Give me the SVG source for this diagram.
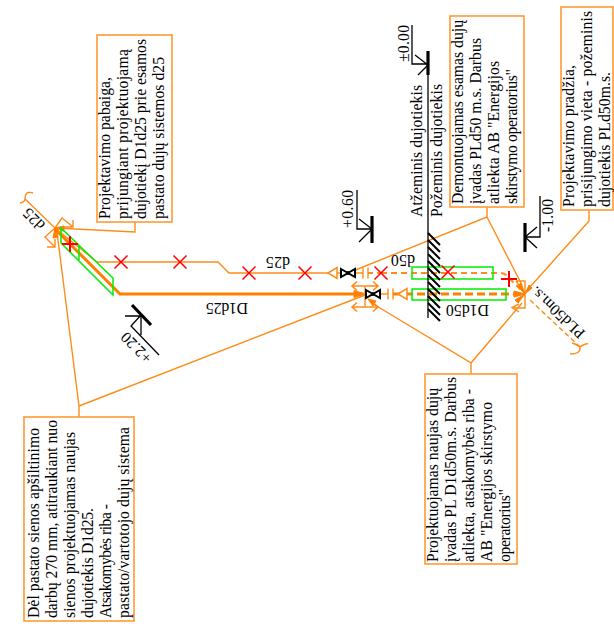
<svg xmlns="http://www.w3.org/2000/svg" width="614" height="624" viewBox="0 0 614 624">
<style>
text{font-family:"Liberation Serif","Times New Roman",serif;fill:#000;font-size:15.7px}
.box{fill:#fff;stroke:#ff9a33;stroke-width:1.6}
.o{fill:none;stroke:#ff8c1a;stroke-width:1.4}
.of{fill:#ff8000;stroke:#ff8000;stroke-width:1}
.ot{fill:none;stroke:#ff8000;stroke-width:3}
.g{fill:none;stroke:#00ee00;stroke-width:1.5}
.r{fill:none;stroke:#ff0000;stroke-width:1.5}
.k{fill:none;stroke:#000;stroke-width:1.3}
.kb{fill:none;stroke:#000;stroke-width:3.2}
.h{fill:none;stroke:#000;stroke-width:2}
</style>
<defs>
<path id="x" class="r" d="M-6.500 -6.500L6.500 6.500M-6.500 6.500L6.500 -6.500"/>
<path id="p" class="r" d="M-8 0H8M0 -8V8" style="stroke-width:2"/>
<path id="tri" class="o" d="M0 0L9 -5.500V5.500Z" style="fill:#fff;stroke-width:1.500"/>
<path id="fl" class="o" d="M0 -5.500V5.500M5 -5.500V5.500"/>
<g id="v"><path fill="#fff" stroke="#000" stroke-width="2" d="M-7 -4L7 4V-4L-7 4Z"/><circle r="2" fill="#000"/></g>
<path id="dbl" class="o" d="M-13 0H13M-8 -4.500L-13 0-8 4.500M8 -4.500L13 0 8 4.500" style="stroke-width:1.600"/>
</defs>
<g id="connectors">
<path class="o" d="M25 199L55 228L97 262H218L229 273H328"/>
<path class="ot" d="M55 229L120 294H365"/>
<path class="o" d="M337 273H341M355 273H363"/>
<path class="o" d="M368 273H381" stroke-dasharray="5 4" style="stroke-width:2"/>
<path class="o" d="M381 273H500Q505 273 508 277L525 294" stroke-dasharray="6 4" style="stroke-width:2"/>
<path class="ot" d="M393 294H525" stroke-dasharray="8 4"/>
<path class="o" d="M530 300L580 347" stroke-dasharray="5 3"/>
<path class="o" d="M380 294H388"/>
<path class="o" d="M20 203Q25 202 25 199Q25 194 28 192.500Q31 192 33 193"/>
<path class="o" d="M572 343Q578 345 580 347Q586 343 588 344M580 347Q581 354 570 354"/>
<path class="o" d="M55 228L62 218L73 227M73 220V227H64M55 228L45 237L55 247M55 239V247H47"/>
<path class="o" d="M516 281H525V308H512M519 304L512 307.500 519 312M525 294L516 281"/>
<path class="o" d="M135 222V232L55 228M79 417V406L57 232M79 406L365 295"/>
<path class="o" d="M487 207V217L348 273M487 217L522 285"/>
<path class="o" d="M589 210V221L530 287"/>
<path class="o" d="M471 374V363L370 302M471 363L522 303"/>
<path class="of" d="M365 294L354 290.500V297.500ZM525 294L517 286L521 283ZM525 294L529 285L532 288ZM525 294L514 291V297ZM525 294L518 303L515 300ZM55 228L53 238L58 237ZM55 228L64 231L64 226ZM368 299L376 301L373 306Z"/>
<path class="o" d="M365 286V307"/>
</g>
<g id="pipe-fittings">
<use href="#tri" x="328" y="273"/>
<use href="#v" x="348" y="273"/>
<use href="#fl" x="363" y="273"/>
<use href="#dbl" x="365" y="286"/>
<use href="#dbl" x="365" y="307"/>
<use href="#v" x="373" y="294"/>
<use href="#fl" x="388" y="294"/>
<use href="#tri" x="398" y="294"/>
</g>
<g id="green-sleeves">
<path class="g" d="M61 228L113 278V295L61 243ZM79 245V260"/>
<rect class="g" x="412" y="267" width="81" height="12"/>
<rect class="g" x="412" y="289" width="94" height="11"/>
</g>
<g id="cut-marks">
<use href="#p" x="70" y="244"/>
<use href="#x" x="121" y="262"/>
<use href="#x" x="180" y="262"/>
<use href="#x" x="249" y="273"/>
<use href="#x" x="305" y="273"/>
<use href="#x" x="381" y="273"/>
<use href="#x" x="448" y="272"/>
<use href="#p" x="509" y="279"/>
</g>
<g id="wall">
<path class="k" d="M428 75V318"/>
<path class="kb" d="M428 51V75"/>
<path class="h" d="M428 233L440 245M428 240L440 252M428 247L440 259M428 254L440 266M428 261L440 273M428 268L440 280M428 275L440 287M428 282L440 294M428 289L440 301M428 296L440 308M428 303L440 315M428 309L440 321"/>
<text transform="translate(422 217) rotate(-90)" textLength="132">Atžeminis dujotiekis</text>
<text transform="translate(442 217) rotate(-90)" textLength="133">Požeminis dujotiekis</text>
</g>
<g id="level-0-00">
<path class="k" d="M412 25V64H428M415 55L428 65L418 75"/>
<text transform="translate(409 62) rotate(-90)" textLength="37">±0.00</text>
</g>
<g id="level-0-60">
<path class="k" d="M357 190V229H372M359 219L372 229L359 242"/>
<path class="kb" d="M372 216V243"/>
<text transform="translate(353 228) rotate(-90)" textLength="38">+0.60</text>
</g>
<g id="level-1-00">
<path class="k" d="M540 196V237H525M537 227L525 237L537 248"/>
<path class="kb" d="M525 223V252"/>
<text transform="translate(553 232) rotate(-90)" textLength="33">-1.00</text>
</g>
<g id="level-2-20">
<path class="kb" d="M132 305L151 325"/>
<path class="k" d="M159 355L131 326L141 315M125 316H141V335"/>
<text transform="translate(153 357) rotate(-135)" textLength="37">+2.20</text>
</g>
<g id="pipe-labels">
<text transform="translate(46 224) rotate(-135)" textLength="24">d25</text>
<text transform="translate(290 257) rotate(180)" textLength="24">d25</text>
<text transform="translate(248 303) rotate(180)" textLength="42">D1d25</text>
<text transform="translate(415 255) rotate(180)" textLength="24">d50</text>
<text transform="translate(489 305) rotate(180)" textLength="43">D1d50</text>
<text transform="translate(586 332) rotate(-137)" textLength="68">PLd50m.s.</text>
</g>
<g id="note-project-end">
<rect class="box" x="97" y="35" width="75" height="187"/>
<text transform="translate(110 219) rotate(-90)" textLength="142">Projektavimo pabaiga,</text>
<text transform="translate(128 219) rotate(-90)" textLength="170">prijungiant projektuojamą</text>
<text transform="translate(146 219) rotate(-90)" textLength="180">dujotiekį D1d25 prie esamos</text>
<text transform="translate(164 219) rotate(-90)" textLength="162">pastato dujų sistemos d25</text>
</g>
<g id="note-wall-insulation">
<rect class="box" x="24" y="417" width="110" height="204"/>
<text transform="translate(39 618) rotate(-90)" textLength="190">Dėl pastato sienos apšiltinimo</text>
<text transform="translate(57 618) rotate(-90)" textLength="198">darbų 270 mm, atitraukiant nuo</text>
<text transform="translate(75 618) rotate(-90)" textLength="186">sienos projektuojamas naujas</text>
<text transform="translate(93 618) rotate(-90)" textLength="110">dujotiekis D1d25.</text>
<text transform="translate(111 618) rotate(-90)" textLength="114">Atsakomybės riba -</text>
<text transform="translate(129 618) rotate(-90)" textLength="191">pastato/vartotojo dujų sistema</text>
</g>
<g id="note-new-inlet">
<rect class="box" x="425" y="374" width="92" height="190"/>
<text transform="translate(438 562) rotate(-90)" textLength="174">Projektuojamas naujas dujų</text>
<text transform="translate(456 562) rotate(-90)" textLength="185">įvadas PL D1d50m.s. Darbus</text>
<text transform="translate(474 562) rotate(-90)" textLength="173">atliekta, atsakomybės riba -</text>
<text transform="translate(492 562) rotate(-90)" textLength="160">AB "Energijos skirstymo</text>
<text transform="translate(510 562) rotate(-90)" textLength="73">operatorius"</text>
</g>
<g id="note-dismantled-inlet">
<rect class="box" x="450" y="16" width="74" height="191"/>
<text transform="translate(463 204) rotate(-90)" textLength="184">Demontuojamas esamas dujų</text>
<text transform="translate(481 204) rotate(-90)" textLength="166">įvadas PLd50 m.s. Darbus</text>
<text transform="translate(499 204) rotate(-90)" textLength="143">atliekta AB "Energijos</text>
<text transform="translate(517 204) rotate(-90)" textLength="135">skirstymo operatorius"</text>
</g>
<g id="note-project-start">
<rect class="box" x="561" y="7" width="52" height="203"/>
<text transform="translate(574 207) rotate(-90)" textLength="142">Projektavimo pradžia,</text>
<text transform="translate(592 207) rotate(-90)" textLength="196">prisijungimo vieta -  požeminis</text>
<text transform="translate(610 207) rotate(-90)" textLength="135">dujotiekis PLd50m.s.</text>
</g>
</svg>
